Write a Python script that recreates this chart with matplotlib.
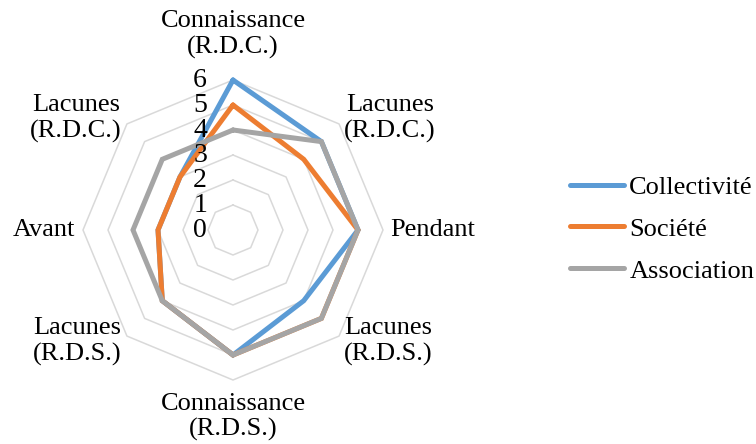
import numpy as np
import matplotlib
matplotlib.use("Agg")
import matplotlib.pyplot as plt
from matplotlib.transforms import offset_copy

plt.rcParams['font.family'] = ['Liberation Serif', 'DejaVu Serif']

# catégories (dans le sens horaire, en partant du haut)
categories = ["Connaissance\n(R.D.C.)", "Lacunes\n(R.D.C.)", "Pendant", "Lacunes\n(R.D.S.)",
              "Connaissance\n(R.D.S.)", "Lacunes\n(R.D.S.)", "Avant", "Lacunes\n(R.D.C.)"]
collectivite = [6, 5, 5, 4, 5, 4, 3, 3]
societe = [5, 4, 5, 5, 5, 4, 3, 3]
association = [4, 5, 5, 5, 5, 4, 4, 4]
series_names = ["Collectivité", "Société", "Association"]
colors = ["#5B9BD5", "#ED7D31", "#A5A5A5"]
ticks = [0, 1, 2, 3, 4, 5, 6]

W, H = 756, 444
fig = plt.figure(figsize=(W / 100, H / 100), dpi=100)
cx, cy, R = 233, 230, 150
ax = fig.add_axes([(cx - R) / W, (H - cy - R) / H, 2 * R / W, 2 * R / H], projection='polar')
ax.set_theta_zero_location('N')
ax.set_theta_direction(-1)
ax.set_ylim(0, 6)
ax.grid(False)
ax.set_xticks([])
ax.set_yticks([])
ax.spines['polar'].set_visible(False)
ax.patch.set_visible(False)

n = len(categories)
angles = np.arange(n) * 2 * np.pi / n
closed = np.append(angles, angles[0])

# grille octogonale
for r in ticks[1:]:
    ax.plot(closed, [r] * (n + 1), color="#D9D9D9", lw=1.1, zorder=1, clip_on=False)

# séries
for vals, name, c in zip([collectivite, societe, association], series_names, colors):
    ax.plot(closed, vals + vals[:1], color=c, lw=3.6, label=name, zorder=3,
            clip_on=False, solid_joinstyle='miter', solid_capstyle='round')

# étiquettes des axes
fs = 19
for a, lab in zip(angles, categories):
    deg = np.degrees(a)
    if deg == 0:
        ax.text(a, 6.85, lab, ha='center', va='bottom', fontsize=fs, linespacing=1.2)
    elif deg == 180:
        ax.text(a, 6.5, lab, ha='center', va='top', fontsize=fs, linespacing=1.2)
    elif deg < 180:
        ax.text(a, 6.3, lab, ha='left', va='center', fontsize=fs, linespacing=1.2,
                multialignment='center')
    else:
        ax.text(a, 6.3, lab, ha='right', va='center', fontsize=fs, linespacing=1.2,
                multialignment='center')

# graduations
trans = offset_copy(ax.transData, fig=fig, x=-26, y=0, units='dots')
for t in ticks:
    ax.text(0, t, str(t), transform=trans, ha='right', va='center', fontsize=20)

fig.legend(loc='center left', bbox_to_anchor=(570 / W, 1 - 229 / H), frameon=False,
           fontsize=fs, handlelength=2.05, handletextpad=0.2, labelspacing=0.7,
           borderpad=0, borderaxespad=0)

fig.savefig("out.png", dpi=100)
